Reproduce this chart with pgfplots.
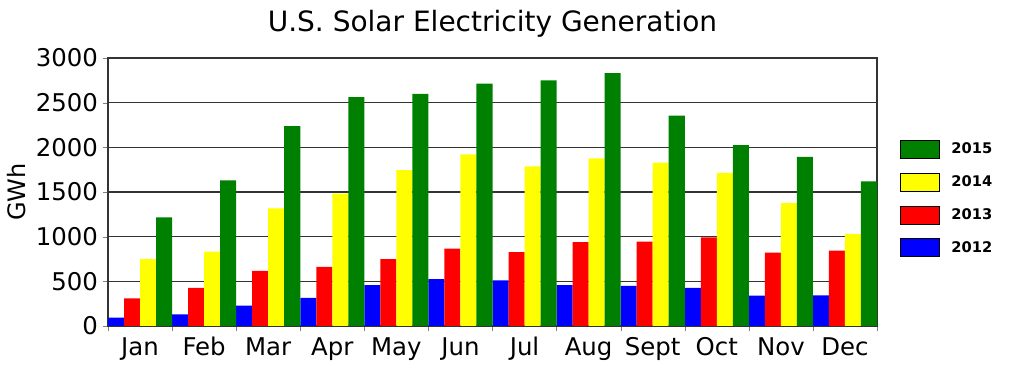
\documentclass[border=0pt]{standalone}
\usepackage{fontspec}
\setmainfont{DejaVu Sans}
\usepackage{pgfplots}
\pgfplotsset{compat=1.18}
\definecolor{cgreen}{HTML}{008000}
\definecolor{cyellow}{HTML}{FFFF00}
\definecolor{cred}{HTML}{FF0000}
\definecolor{cblue}{HTML}{0000FF}
\begin{document}
\begin{tikzpicture}
\path[use as bounding box] (-81pt,-43.5pt) rectangle (687pt,244.5pt);
\begin{axis}[
  at={(0,0)}, anchor=south west,
  scale only axis,
  width=576.75pt, height=201pt,
  xmin=0, xmax=12, ymin=0, ymax=3000,
  ytick={0,500,...,3000},
  xtick={0.5,1.5,...,11.5},
  xticklabels={Jan,Feb,Mar,Apr,May,Jun,Jul,Aug,Sept,Oct,Nov,Dec},
  minor xtick={0,1,...,12},
  major x tick style={draw=none},
  minor tick length=4pt,
  major tick length=4pt,
  tick align=outside,
  tick pos=left,
  ymajorgrids,
  grid style={black!80, line width=1.1pt},
  axis line style={black!80, line width=0.9pt},
  /pgf/number format/assume math mode=true,
  /pgf/number format/1000 sep={},
  ticklabel style={font=\fontsize{18.3}{20}\selectfont},
  xticklabel style={yshift=-1pt},
  ylabel={GWh},
  ylabel style={font=\fontsize{18}{20}\selectfont, yshift=1pt},
  title={U.S. Solar Electricity Generation},
  title style={font=\fontsize{21}{24}\selectfont, at={(0.5,1)}, anchor=base, yshift=14pt},
  ybar, bar width=0.25,
  reverse legend,
  legend style={at={(1,0.5)}, anchor=west, xshift=14pt, yshift=-5pt, draw=none, fill=none,
    font=\bfseries\fontsize{11}{13}\selectfont, row sep=10.5pt,
    nodes={inner xsep=9pt}},
  legend cell align=left,
  legend image code/.code={\draw[#1, draw=black, line width=0.6pt] (0pt,-6.75pt) rectangle (29pt,6.75pt);},
]
\addplot[fill=cblue, draw=none, bar shift=-0.375] coordinates {
(0.5,93) (1.5,130) (2.5,227) (3.5,316) (4.5,458) (5.5,525) (6.5,510) (7.5,458) (8.5,450) (9.5,428) (10.5,339) (11.5,342)};
\addplot[fill=cred, draw=none, bar shift=-0.125] coordinates {
(0.5,309) (1.5,428) (2.5,618) (3.5,662) (4.5,748) (5.5,867) (6.5,826) (7.5,938) (8.5,945) (9.5,993) (10.5,822) (11.5,844)};
\addplot[fill=cyellow, draw=none, bar shift=0.125] coordinates {
(0.5,748) (1.5,833) (2.5,1317) (3.5,1481) (4.5,1745) (5.5,1920) (6.5,1786) (7.5,1875) (8.5,1830) (9.5,1715) (10.5,1376) (11.5,1030)};
\addplot[fill=cgreen, draw=none, bar shift=0.375] coordinates {
(0.5,1217) (1.5,1629) (2.5,2236) (3.5,2563) (4.5,2597) (5.5,2712) (6.5,2749) (7.5,2831) (8.5,2355) (9.5,2024) (10.5,1894) (11.5,1618)};
\legend{2012,2013,2014,2015}
\end{axis}
\end{tikzpicture}
\end{document}
